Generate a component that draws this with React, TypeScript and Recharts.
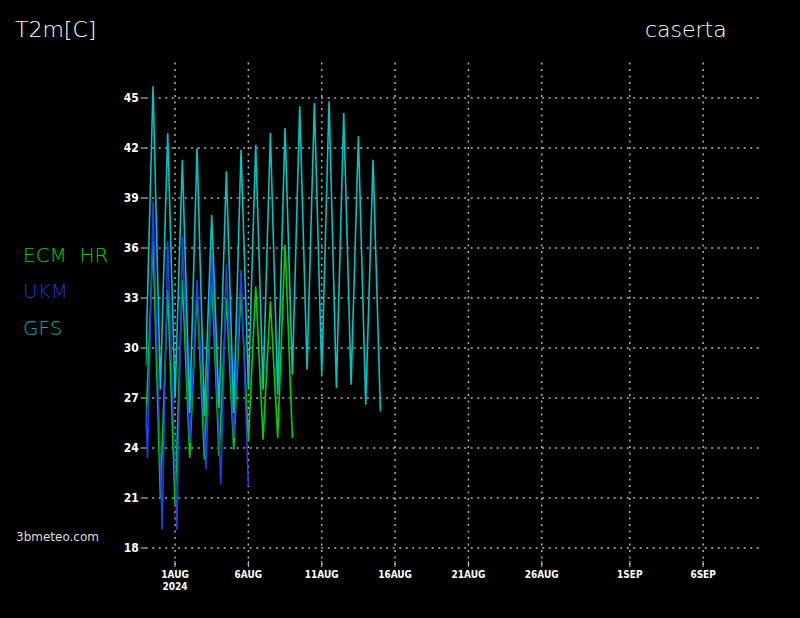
import { LineChart, Line, XAxis, YAxis, ReferenceLine } from 'recharts'

// x values are days since 1 Aug 2024 00 UTC
const X_TICKS = [0, 5, 10, 15, 20, 25, 31, 36]
const X_LABELS = ['1AUG', '6AUG', '11AUG', '16AUG', '21AUG', '26AUG', '1SEP', '6SEP']
const Y_TICKS = [18, 21, 24, 27, 30, 33, 36, 39, 42, 45]

// ECM HR and GFS are 12-hourly from 30 Jul 00 UTC
const RUN_START = -2
const STEP = 0.5

const ecmHr = [
  25.1, 36.4, 21.0, 33.5, 20.6, 34.1, 23.4, 33.4, 23.3, 34.2, 23.5,
  33.0, 23.9, 33.5, 24.4, 33.7, 24.5, 32.8, 24.6, 36.2, 24.6,
]

const gfs = [
  28.9, 45.7, 27.5, 42.9, 27.0, 41.3, 26.1, 42.0, 25.9, 38.0, 26.4,
  40.6, 26.1, 41.9, 27.6, 42.2, 27.5, 42.9, 27.2, 43.2, 28.4, 44.5,
  28.7, 44.7, 28.4, 44.8, 27.6, 44.1, 27.8, 42.7, 26.6, 41.3, 26.2,
]

// UKM peaks/troughs don't all fall on 00/12
const ukmTimes = [
  -2, -1.875, -1.5, -0.875, -0.5, 0.125, 0.5, 1, 1.5, 2.125, 2.5, 3.125, 3.5, 4, 4.5, 5,
]
const ukm = [
  26.5, 23.4, 38.8, 19.1, 36.4, 19.1, 36.7, 24.3, 34.1, 22.7, 35.6, 21.8, 35.0, 24.6, 34.7, 21.7,
]

const ecmData = ecmHr.map((v, i) => ({ t: RUN_START + i * STEP, v }))
const gfsData = gfs.map((v, i) => ({ t: RUN_START + i * STEP, v }))
const ukmData = ukm.map((v, i) => ({ t: ukmTimes[i], v }))

const COLORS = { ecm: '#00d200', ukm: '#1f3fe8', gfs: '#00c4c4' }
const AXIS_FONT = '"DejaVu Sans Condensed", "DejaVu Sans", sans-serif'
const GRID = { stroke: '#b0b0b0', strokeWidth: 1.5, strokeDasharray: '2 4.5' }

function DateTick({ x, y, payload }: any) {
  const i = X_TICKS.indexOf(payload.value)
  return (
    <g>
      <line x1={x} x2={x} y1={y - 4} y2={y + 2} stroke="#bbb" strokeWidth={1} />
      <text x={x} y={y + 13} fill="#fff" fontSize={10} fontWeight={700} fontFamily={AXIS_FONT} textAnchor="middle">
        {X_LABELS[i]}
      </text>
      {i === 0 && (
        <text x={x} y={y + 25} fill="#fff" fontSize={10} fontWeight={700} fontFamily={AXIS_FONT} textAnchor="middle">
          2024
        </text>
      )}
    </g>
  )
}

const label = (top: number, left: number, color: string, size: number) => ({
  position: 'absolute' as const,
  top,
  left,
  color,
  fontSize: size,
  fontFamily: '"DejaVu Sans", sans-serif',
  fontWeight: 200,
  whiteSpace: 'pre' as const,
  lineHeight: 1,
})

export default function App() {
  return (
    <div style={{ position: 'absolute', left: 0, top: 0, width: 800, height: 618, background: '#000', overflow: 'hidden' }}>
      <div style={label(19, 15, '#fff', 22)}>T2m[C]</div>
      <div style={label(19, 645, '#fff', 22)}>caserta</div>
      <div style={label(245, 23, COLORS.ecm, 20)}>ECM  HR</div>
      <div style={label(281, 23, '#2233dd', 20)}>UKM</div>
      <div style={label(318, 23, '#00b0b0', 20)}>GFS</div>
      <div style={{ ...label(531, 16, '#ddd', 12), fontWeight: 400 }}>3bmeteo.com</div>

      <LineChart width={800} height={618} margin={{ top: 58, right: 38.2, bottom: 23, left: 105.7 }}>
        <XAxis
          dataKey="t"
          type="number"
          domain={[-2, 40]}
          ticks={X_TICKS}
          interval={0}
          allowDataOverflow
          axisLine={false}
          tickLine={false}
          tickSize={0}
          tickMargin={0}
          height={30}
          tick={<DateTick />}
        />
        <YAxis
          type="number"
          domain={[16.98, 47.4]}
          ticks={Y_TICKS}
          interval={0}
          allowDataOverflow
          width={40}
          axisLine={false}
          tickLine={{ stroke: '#ccc' }}
          tickSize={5}
          tickMargin={2}
          tick={{ fill: '#fff', fontSize: 12, fontWeight: 700, fontFamily: AXIS_FONT }}
        />
        {Y_TICKS.map((t) => (
          <ReferenceLine key={'y' + t} y={t} {...GRID} />
        ))}
        {X_TICKS.map((t) => (
          <ReferenceLine key={'x' + t} x={t} {...GRID} />
        ))}
        <Line data={ecmData} dataKey="v" stroke={COLORS.ecm} strokeWidth={1.6} dot={false} isAnimationActive={false} />
        <Line data={ukmData} dataKey="v" stroke={COLORS.ukm} strokeWidth={1.6} dot={false} isAnimationActive={false} />
        <Line data={gfsData} dataKey="v" stroke={COLORS.gfs} strokeWidth={1.6} dot={false} isAnimationActive={false} />
      </LineChart>
    </div>
  )
}
